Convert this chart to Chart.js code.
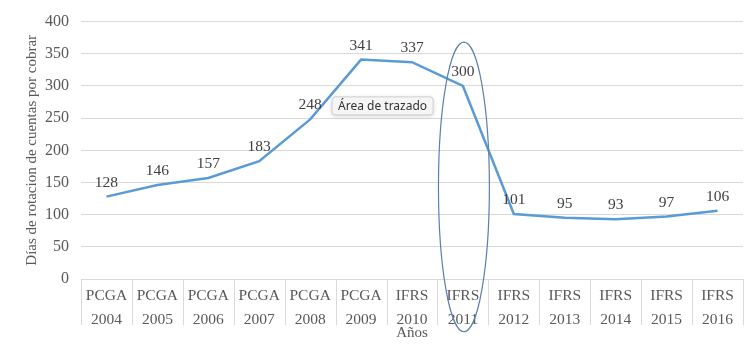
<!DOCTYPE html>
<html><head><meta charset="utf-8">
<script src="https://cdn.jsdelivr.net/npm/chart.js@4"></script>
<style>html,body{margin:0;padding:0;background:#fff}#wrap{width:754px;height:345px}</style>
</head><body><div id="wrap"><canvas id="c" width="754" height="345"></canvas></div>
<script>
const normas = ['PCGA','PCGA','PCGA','PCGA','PCGA','PCGA','IFRS','IFRS','IFRS','IFRS','IFRS','IFRS','IFRS'];
const anios = ['2004','2005','2006','2007','2008','2009','2010','2011','2012','2013','2014','2015','2016'];
const dias = [128,146,157,183,248,341,337,300,101,95,93,97,106];
const yTicks = [0,50,100,150,200,250,300,350,400];
const yTitle = 'Días de rotacion de cuentas por cobrar';
const xTitle = 'Años';
const tooltipText = 'Área de trazado';
const highlightIndex = 7;

const serif = '"Liberation Serif", "Times New Roman", serif';

const labelsPlugin = {
  id: 'extras',
  afterDraw(chart) {
    const ctx = chart.ctx, xs = chart.scales.x, ys = chart.scales.y;
    ctx.save();
    ctx.strokeStyle = '#d9d9d9'; ctx.lineWidth = 1;
    for (let i = 0; i <= anios.length; i++) {
      const x = Math.round(xs.getPixelForValue(i - 0.5)) + 0.5;
      ctx.beginPath(); ctx.moveTo(x, ys.bottom); ctx.lineTo(x, ys.bottom + 46); ctx.stroke();
    }
    ctx.restore();
    const meta = chart.getDatasetMeta(0);
    ctx.save();
    ctx.font = '15.5px ' + serif; ctx.fillStyle = '#404040';
    ctx.textAlign = 'center'; ctx.textBaseline = 'middle';
    meta.data.forEach((p, i) => { ctx.fillText(String(dias[i]), p.x, p.y - 14); });
    ctx.restore();
    const cx = xs.getPixelForValue(highlightIndex) + 1;
    const top = ys.getPixelForValue(368), bot = ys.getPixelForValue(-82);
    const rx = (xs.getPixelForValue(highlightIndex + 0.5) - xs.getPixelForValue(highlightIndex - 0.5)) / 2;
    ctx.save();
    ctx.strokeStyle = '#5b7fae'; ctx.lineWidth = 1.2;
    ctx.beginPath(); ctx.ellipse(cx, (top + bot) / 2, rx, (bot - top) / 2, 0, 0, Math.PI * 2); ctx.stroke();
    ctx.restore();
    const bx = xs.getPixelForValue(4.43), by = ys.getPixelForValue(283);
    ctx.save();
    ctx.font = '12px "Noto Sans", "DejaVu Sans", sans-serif';
    const w = ctx.measureText(tooltipText).width + 12, h = 18;
    ctx.shadowColor = 'rgba(0,0,0,0.18)'; ctx.shadowBlur = 5; ctx.shadowOffsetY = 1;
    ctx.fillStyle = '#f5f5f5';
    ctx.beginPath(); ctx.roundRect(bx, by, w, h, 3); ctx.fill();
    ctx.shadowColor = 'transparent';
    ctx.strokeStyle = '#cfcfcf'; ctx.lineWidth = 1; ctx.stroke();
    ctx.fillStyle = '#333'; ctx.textBaseline = 'middle'; ctx.textAlign = 'left';
    ctx.fillText(tooltipText, bx + 6, by + h / 2 + 0.5);
    ctx.restore();
  }
};

new Chart(document.getElementById('c'), {
  type: 'line',
  data: {
    labels: anios.map((a, i) => [normas[i], a]),
    datasets: [{ data: dias, borderColor: '#5b9bd5', borderWidth: 2.5, pointRadius: 0, tension: 0, fill: false }]
  },
  options: {
    responsive: false, animation: false,
    layout: { padding: { top: 19, right: 11, left: 0, bottom: 0 } },
    plugins: { legend: { display: false }, tooltip: { enabled: false } },
    scales: {
      x: {
        offset: true,
        grid: { display: false, drawOnChartArea: false, drawTicks: false },
        border: { display: true, color: '#d9d9d9' },
        ticks: { autoSkip: false, maxRotation: 0, padding: 5, color: '#595959', font: { family: serif, size: 15.5, lineHeight: 1.55 } },
        title: { display: true, text: xTitle, color: '#595959', font: { family: serif, size: 15, lineHeight: 1.2 }, padding: { top: 0, bottom: 3 } },
        afterFit: s => { s.height = 66; }
      },
      y: {
        min: 0, max: 400,
        afterBuildTicks: s => { s.ticks = yTicks.map(v => ({ value: v })); },
        grid: { color: '#d9d9d9', drawTicks: false },
        border: { display: false },
        ticks: { padding: 12, color: '#595959', font: { family: serif, size: 16 } },
        title: { display: true, text: yTitle, color: '#595959', font: { family: serif, size: 15, lineHeight: 1.2 }, padding: { top: 23, bottom: 0 } },
        afterFit: s => { s.width = 81; }
      }
    }
  },
  plugins: [labelsPlugin]
});
</script></body></html>
